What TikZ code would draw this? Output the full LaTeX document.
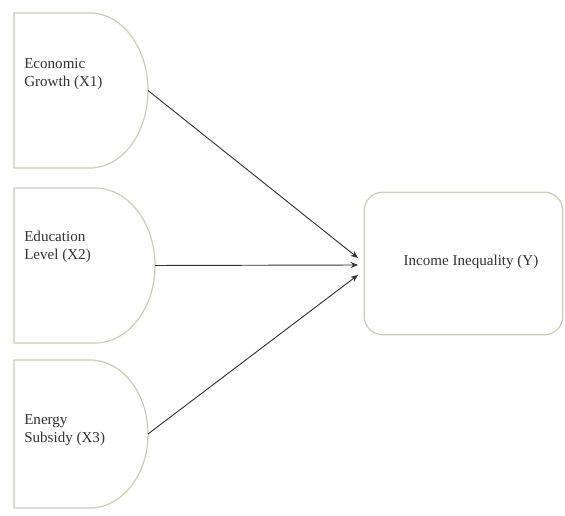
\documentclass[tikz,border=0pt]{standalone}
\usepackage{fontspec}
\setmainfont{Liberation Serif}
\usetikzlibrary{arrows.meta}
\definecolor{edgegreen}{HTML}{C8D0B4}
\definecolor{linegray}{HTML}{333333}
\begin{document}
\begin{tikzpicture}[x=0.75pt,y=-0.75pt,
  shp/.style={draw=edgegreen,line width=0.9pt,fill=white},
  lbl/.style={font=\fontsize{11.3}{13.5}\selectfont,align=left,anchor=west,inner sep=0pt,text=black!80},
  conn/.style={draw=linegray,line width=0.7pt,-{Stealth[length=5.5pt,width=4.5pt]}}]
\useasboundingbox (0,0) rectangle (565,516);
% left delay shapes
\draw[shp] (14,13) -- (90,13) arc[start angle=-90,end angle=90,x radius=58,y radius=77.5] -- (14,168) -- cycle;
\coordinate (e1) at (148,90.5);
\draw[shp] (14,188) -- (95,188) arc[start angle=-90,end angle=90,x radius=60,y radius=77.5] -- (14,343) -- cycle;
\coordinate (e2) at (155,265.5);
\draw[shp] (14,360) -- (90,360) arc[start angle=-90,end angle=90,x radius=58,y radius=74] -- (14,508) -- cycle;
\coordinate (e3) at (148,434);
\node[lbl] (t1) at (24,74) {Economic\\Growth (X1)};
\node[lbl] (t2) at (24,247) {Education\\Level (X2)};
\node[lbl] (t3) at (24,430) {Energy\\Subsidy (X3)};
% right box
\node[shp,rounded corners=14pt,minimum width=149pt,minimum height=107pt,inner sep=0pt] (y) at (463.5,263.5) {};
\node[font=\fontsize{11.3}{13.5}\selectfont,text=black!80,inner sep=0pt] (yt) at (471,262) {Income Inequality (Y)};
\coordinate (in1) at (358,258);
\coordinate (in2) at (358,265);
\coordinate (in3) at (358,275);
\draw[conn] (e1) -- (in1);
\draw[conn] (e2) -- (in2);
\draw[conn] (e3) -- (in3);
\end{tikzpicture}
\end{document}
